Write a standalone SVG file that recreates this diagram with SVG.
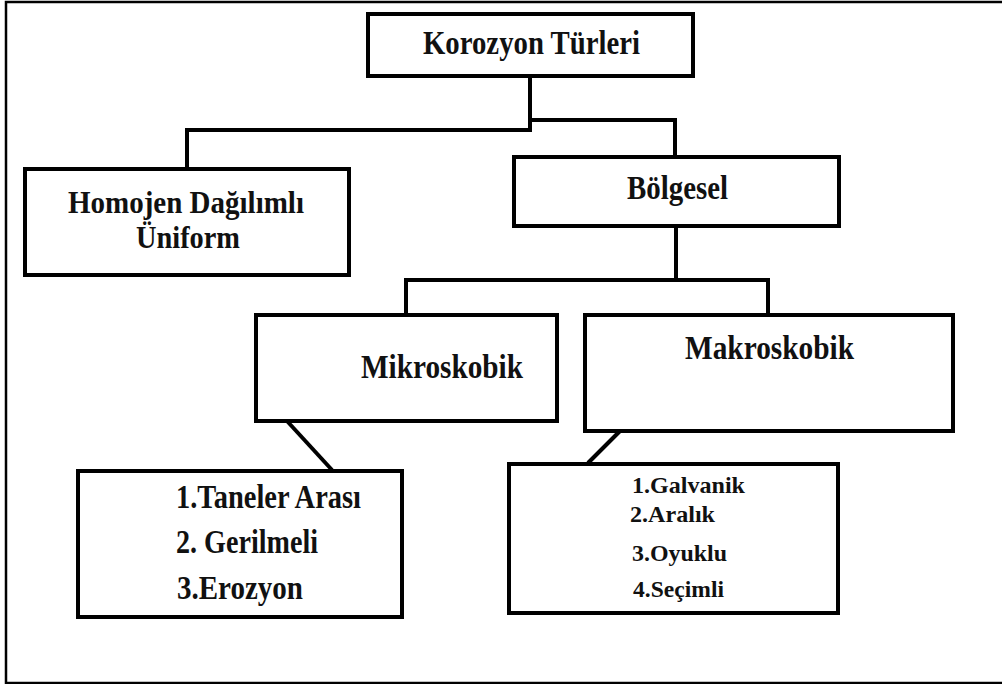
<svg xmlns="http://www.w3.org/2000/svg" width="1002" height="684" viewBox="0 0 1002 684">
<style>
.frame{fill:#fff;stroke:#000;stroke-width:2.5}
.box{fill:#fff;stroke:#000;stroke-width:4}
.conn{fill:none;stroke:#000;stroke-width:4;stroke-linejoin:miter}
.t{font-family:"Liberation Serif","Times New Roman",serif;font-weight:bold;fill:#111;font-size:33px}
.h{font-size:31px}
.s{font-family:"Liberation Serif","Times New Roman",serif;font-weight:bold;fill:#111;font-size:23px}
</style>
<rect x="0" y="0" width="1002" height="684" fill="#fff"/>
<rect class="frame" x="6" y="2" width="1010" height="681"/>
<g id="connectors">
<polyline class="conn" points="530,76 530,130 187,130 187,168"/>
<polyline class="conn" points="530,120 675,120 675,157"/>
<polyline class="conn" points="676,226 676,280 406,280 406,314"/>
<polyline class="conn" points="676,280 768,280 768,314"/>
<line class="conn" x1="287" y1="421" x2="332" y2="470"/>
<line class="conn" x1="620" y1="431" x2="588" y2="463"/>
</g>
<g id="korozyon">
<rect class="box" x="368" y="14" width="325" height="62"/>
<text class="t" x="423" y="54" textLength="217" lengthAdjust="spacingAndGlyphs">Korozyon Türleri</text>
</g>
<g id="homojen">
<rect class="box" x="25" y="169" width="324" height="106"/>
<text class="t h" x="68" y="213" textLength="236" lengthAdjust="spacingAndGlyphs">Homojen Dağılımlı</text>
<text class="t h" x="136" y="248" textLength="104" lengthAdjust="spacingAndGlyphs">Üniform</text>
</g>
<g id="bolgesel">
<rect class="box" x="514" y="157" width="325" height="69"/>
<text class="t" x="627" y="199" textLength="101" lengthAdjust="spacingAndGlyphs">Bölgesel</text>
</g>
<g id="mikroskobik">
<rect class="box" x="256" y="315" width="301" height="106"/>
<text class="t" x="361" y="378" textLength="162" lengthAdjust="spacingAndGlyphs">Mikroskobik</text>
</g>
<g id="makroskobik">
<rect class="box" x="585" y="315" width="368" height="116"/>
<text class="t" x="685" y="359" textLength="169" lengthAdjust="spacingAndGlyphs">Makroskobik</text>
</g>
<g id="mikro-list">
<rect class="box" x="78" y="471" width="324" height="146"/>
<text class="t" x="176" y="508" textLength="185" lengthAdjust="spacingAndGlyphs">1.Taneler Arası</text>
<text class="t" x="176" y="553" textLength="142" lengthAdjust="spacingAndGlyphs">2. Gerilmeli</text>
<text class="t" x="177" y="599" textLength="126" lengthAdjust="spacingAndGlyphs">3.Erozyon</text>
</g>
<g id="makro-list">
<rect class="box" x="509" y="464" width="329" height="149"/>
<text class="s" x="632" y="493" textLength="113" lengthAdjust="spacingAndGlyphs">1.Galvanik</text>
<text class="s" x="630" y="522" textLength="85" lengthAdjust="spacingAndGlyphs">2.Aralık</text>
<text class="s" x="632" y="561" textLength="95" lengthAdjust="spacingAndGlyphs">3.Oyuklu</text>
<text class="s" x="633" y="597" textLength="91" lengthAdjust="spacingAndGlyphs">4.Seçimli</text>
</g>
</svg>
